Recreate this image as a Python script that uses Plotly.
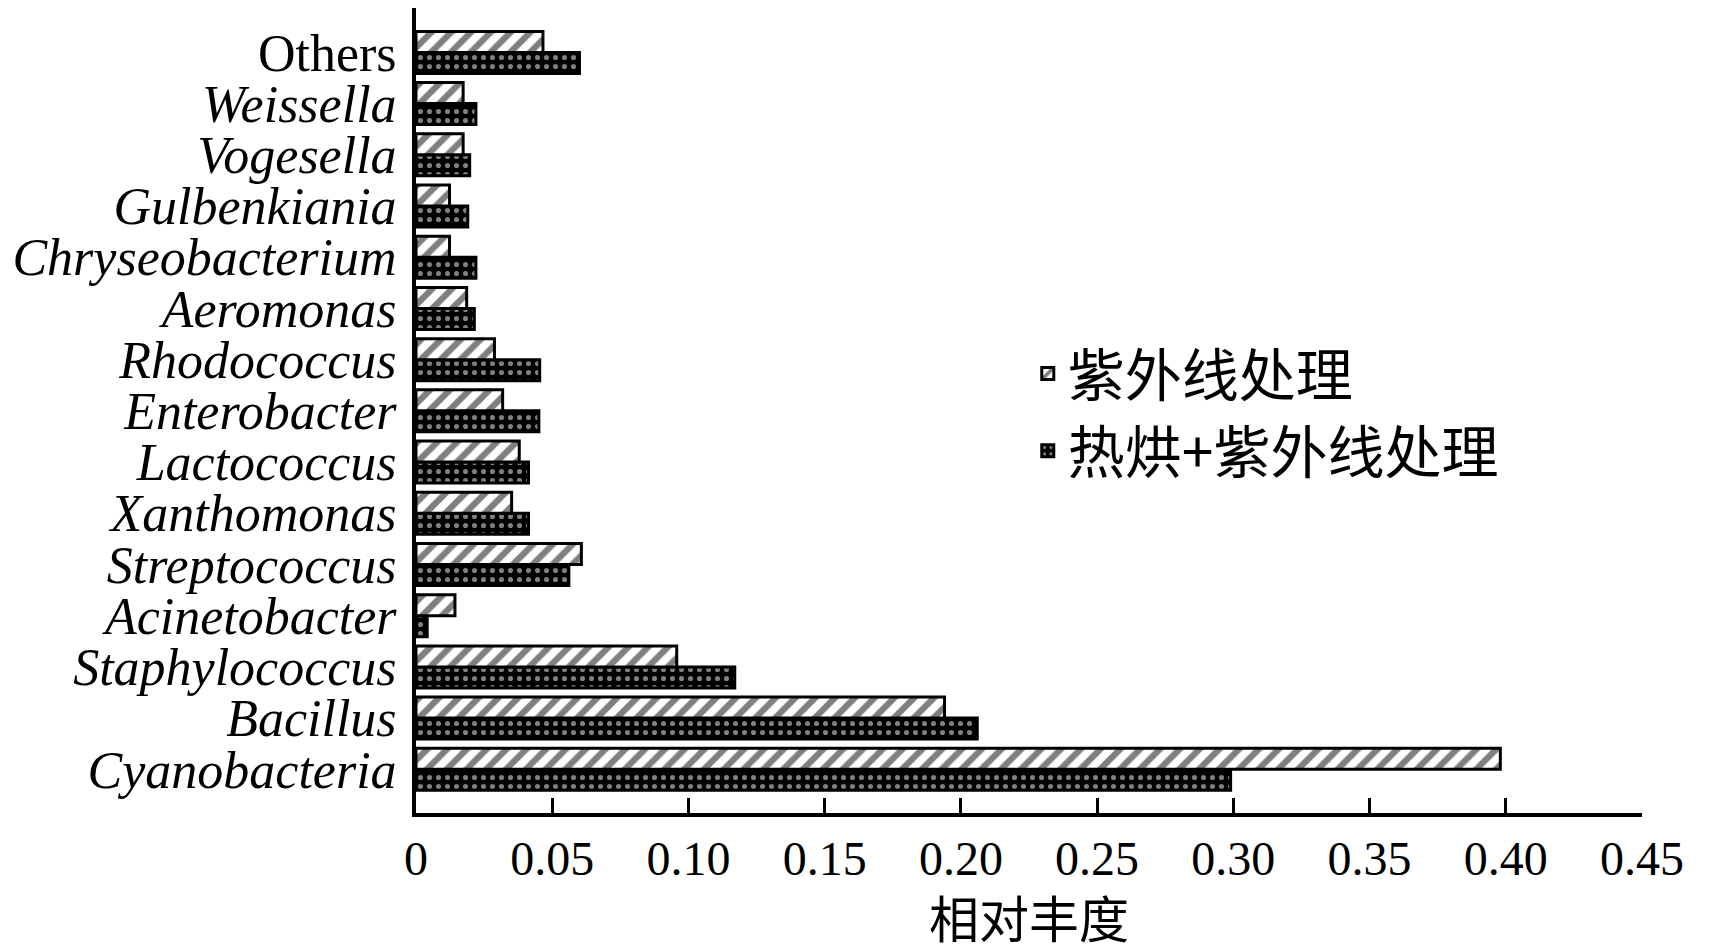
import plotly.graph_objects as go

categories = ["Cyanobacteria", "Bacillus", "Staphylococcus", "Acinetobacter", "Streptococcus",
              "Xanthomonas", "Lactococcus", "Enterobacter", "Rhodococcus", "Aeromonas",
              "Chryseobacterium", "Gulbenkiania", "Vogesella", "Weissella", "Others"]
tick_labels = ["<i>" + c + "</i>" if c != "Others" else c for c in categories]

uv = [0.398, 0.194, 0.0957, 0.0143, 0.0607, 0.0351, 0.0379, 0.0318, 0.0288, 0.0186,
      0.0123, 0.0123, 0.0173, 0.0173, 0.0466]
heat_uv = [0.299, 0.206, 0.117, 0.0041, 0.0561, 0.0413, 0.0413, 0.0451, 0.0454, 0.0214,
           0.022, 0.019, 0.0197, 0.022, 0.060]

series_names = ["紫外线处理", "热烘+紫外线处理"]
x_ticks = [0, 0.05, 0.10, 0.15, 0.20, 0.25, 0.30, 0.35, 0.40, 0.45]
x_tick_text = ["0", "0.05", "0.10", "0.15", "0.20", "0.25", "0.30", "0.35", "0.40", "0.45"]

serif = "Liberation Serif, Times New Roman, serif"
cjk = "Noto Sans CJK SC, sans-serif"

fig = go.Figure()
# second series added first so that it sits below in each horizontal group
fig.add_trace(go.Bar(
    y=categories, x=heat_uv, orientation="h", name=series_names[1],
    marker=dict(color="black", line=dict(color="black", width=3),
                pattern=dict(shape=".", fgcolor="white", bgcolor="black", size=9, solidity=0.25)),
))
fig.add_trace(go.Bar(
    y=categories, x=uv, orientation="h", name=series_names[0],
    marker=dict(color="white", line=dict(color="black", width=3),
                pattern=dict(shape="/", fgcolor="black", bgcolor="white", size=14, solidity=0.45)),
))

fig.update_layout(
    width=1711, height=944,
    paper_bgcolor="white", plot_bgcolor="white",
    margin=dict(l=408, r=77, t=0, b=139),
    barmode="group", bargap=0.18, bargroupgap=0,
    showlegend=True,
    legend=dict(traceorder="reversed", x=0.499, y=0.6, xanchor="left", yanchor="top",
                font=dict(family=cjk, size=57, color="black"), bgcolor="rgba(0,0,0,0)"),
    xaxis=dict(range=[0, 0.45], tickvals=x_ticks, ticktext=x_tick_text, automargin=False,
               showgrid=False, zeroline=False, showline=True, linecolor="black", linewidth=4,
               ticks="inside", ticklen=15, tickwidth=3, tickcolor="black",
               tickfont=dict(family=serif, size=48, color="black"),
               title=dict(text="相对丰度", font=dict(family=cjk, size=50, color="black"), standoff=2)),
    yaxis=dict(type="category", categoryorder="array", categoryarray=categories,
               tickmode="array", tickvals=categories, ticktext=tick_labels, automargin=False,
               range=[-0.853, 14.867],
               showgrid=False, zeroline=False, showline=True, linecolor="black", linewidth=4,
               ticks="", tickfont=dict(family=serif, size=52, color="black"), ticklabelstandoff=5),
)

fig.write_html("out.html")
